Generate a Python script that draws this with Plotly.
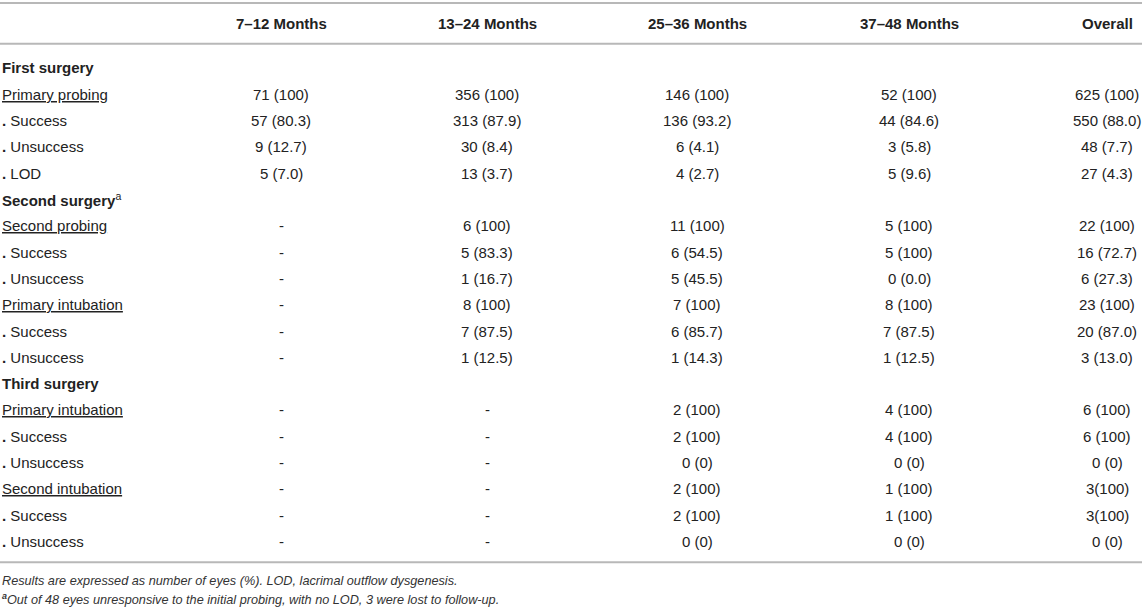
import plotly.graph_objects as go

# Table content
header = ["", "7–12 Months", "13–24 Months", "25–36 Months", "37–48 Months", "Overall"]

row_labels = ["First surgery", "Primary probing", "Success", "Unsuccess", "LOD",
              "Second surgery", "Second probing", "Success", "Unsuccess",
              "Primary intubation", "Success", "Unsuccess",
              "Third surgery", "Primary intubation", "Success", "Unsuccess",
              "Second intubation", "Success", "Unsuccess"]
# g = group heading, s = underlined sub heading, i = bullet item
row_kinds = ["g", "s", "i", "i", "i",
             "g", "s", "i", "i", "s", "i", "i",
             "g", "s", "i", "i", "s", "i", "i"]

m7_12 = ["", "71 (100)", "57 (80.3)", "9 (12.7)", "5 (7.0)",
         "", "-", "-", "-", "-", "-", "-",
         "", "-", "-", "-", "-", "-", "-"]
m13_24 = ["", "356 (100)", "313 (87.9)", "30 (8.4)", "13 (3.7)",
          "", "6 (100)", "5 (83.3)", "1 (16.7)", "8 (100)", "7 (87.5)", "1 (12.5)",
          "", "-", "-", "-", "-", "-", "-"]
m25_36 = ["", "146 (100)", "136 (93.2)", "6 (4.1)", "4 (2.7)",
          "", "11 (100)", "6 (54.5)", "5 (45.5)", "7 (100)", "6 (85.7)", "1 (14.3)",
          "", "2 (100)", "2 (100)", "0 (0)", "2 (100)", "2 (100)", "0 (0)"]
m37_48 = ["", "52 (100)", "44 (84.6)", "3 (5.8)", "5 (9.6)",
          "", "5 (100)", "5 (100)", "0 (0.0)", "8 (100)", "7 (87.5)", "1 (12.5)",
          "", "4 (100)", "4 (100)", "0 (0)", "1 (100)", "1 (100)", "0 (0)"]
overall = ["", "625 (100)", "550 (88.0)", "48 (7.7)", "27 (4.3)",
           "", "22 (100)", "16 (72.7)", "6 (27.3)", "23 (100)", "20 (87.0)", "3 (13.0)",
           "", "6 (100)", "6 (100)", "0 (0)", "3(100)", "3(100)", "0 (0)"]

footnotes = ["Results are expressed as number of eyes (%). LOD, lacrimal outflow dysgenesis.",
             "Out of 48 eyes unresponsive to the initial probing, with no LOD, 3 were lost to follow-up."]

# Layout in pixels
W, H = 1142, 610
col_x = [281, 487, 697, 909, 1107]
header_y = 23
row_y0 = 67.7
row_dy = 26.33
TXT = "#222222"
FONT = "Liberation Sans, Arial, sans-serif"
UNDERLINE = ('<span style="text-decoration:underline;text-decoration-color:#666;'
             'text-underline-offset:4px">')

fig = go.Figure()
ann = []

def add(x, y, text, anchor="center", size=15, color=TXT):
    ann.append(dict(x=x, y=y, text=text, xref="x", yref="y", showarrow=False,
                    xanchor=anchor, yanchor="middle", borderpad=0,
                    font=dict(family=FONT, size=size, color=color)))

for j, h in enumerate(header[1:]):
    add(col_x[j], header_y, "<b>" + h + "</b>")

columns = [m7_12, m13_24, m25_36, m37_48, overall]
for i, (lab, kind) in enumerate(zip(row_labels, row_kinds)):
    y = row_y0 + i * row_dy
    if kind == "g":
        t = "<b>" + lab + "</b>"
        if lab == "Second surgery":
            t += "<sup>a</sup>"
    elif kind == "s":
        t = UNDERLINE + lab + "</span>"
    else:
        t = "<b>.</b> " + lab
    add(1, y, t, anchor="left")
    for j, col in enumerate(columns):
        if col[i]:
            add(col_x[j], y, col[i])

add(1, 580.7, "<i>" + footnotes[0] + "</i>", anchor="left", size=12.7, color="#333333")
add(1, 599, "<i><sup><b>a</b></sup>" + footnotes[1] + "</i>", anchor="left", size=12.7, color="#333333")

line_style = dict(color="#b8b8b8", width=2)
shapes = [dict(type="line", xref="paper", yref="y", x0=0, x1=1, y0=yy, y1=yy, line=line_style)
          for yy in (3, 43.7, 562.3)]

fig.update_layout(
    width=W, height=H,
    margin=dict(l=0, r=0, t=0, b=0),
    paper_bgcolor="white", plot_bgcolor="white",
    xaxis=dict(range=[0, W], visible=False, fixedrange=True),
    yaxis=dict(range=[H, 0], visible=False, fixedrange=True),
    annotations=ann, shapes=shapes, showlegend=False,
)

# drop the page margin so the table sits at the window's top-left corner
fig.write_html("out.html", config={"displayModeBar": False},
               post_script="document.body.style.margin='0';document.body.style.overflow='hidden';")
